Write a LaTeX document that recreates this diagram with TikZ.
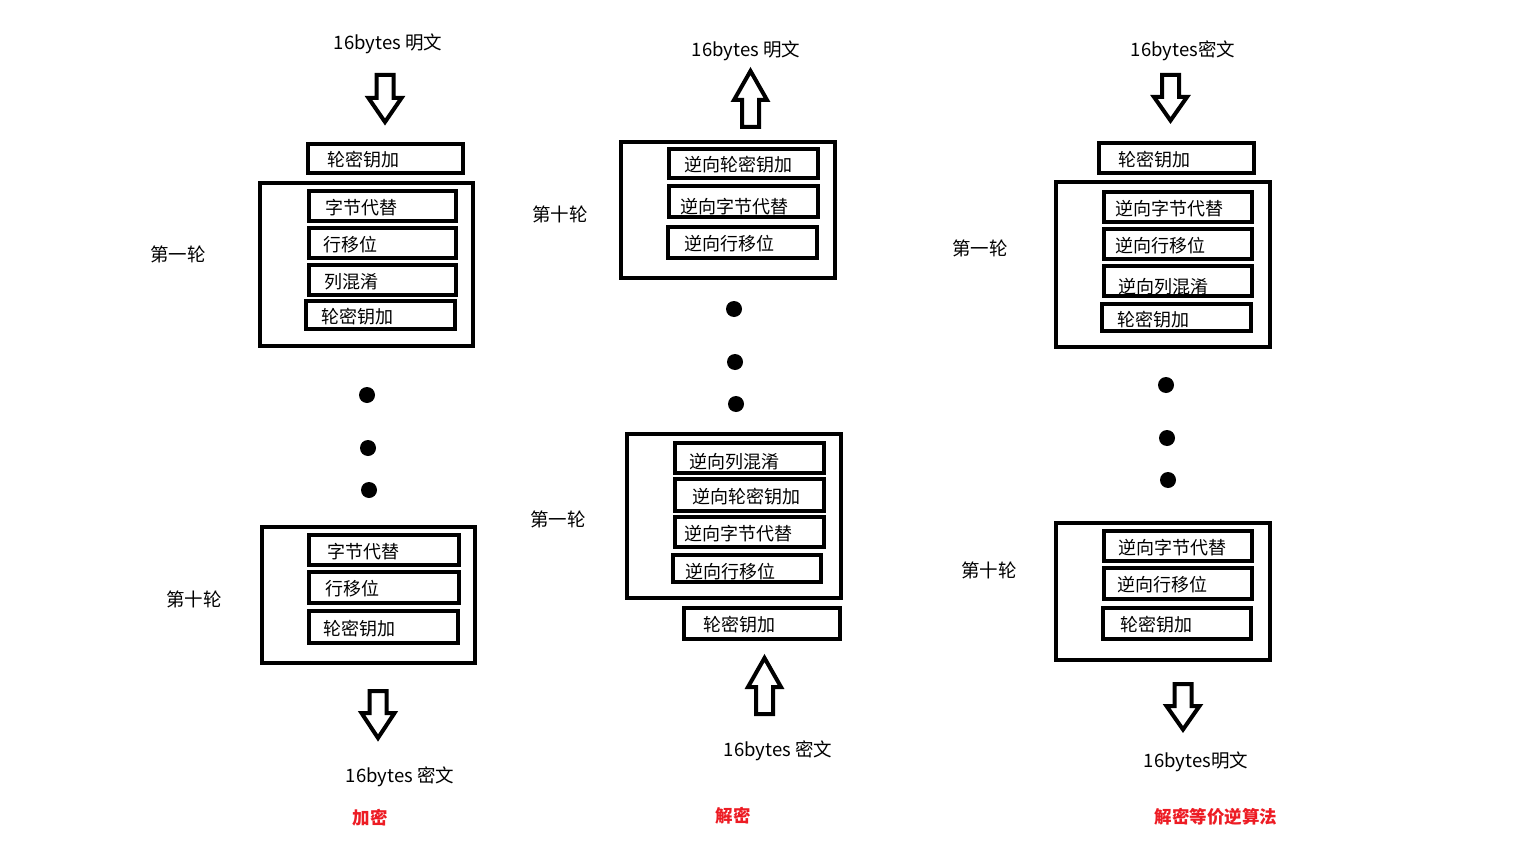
\documentclass[tikz,border=0pt]{standalone}
\usepackage{fontspec}
\setmainfont{Noto Sans CJK SC}
\definecolor{aesred}{RGB}{237,28,36}
\tikzset{
  opbox/.style={draw, line width=4pt, rectangle, inner sep=0pt, outer sep=0pt},
  bigbox/.style={draw, line width=4pt, rectangle, inner sep=0pt, outer sep=0pt},
  optext/.style={font=\fontsize{18}{18}\selectfont, inner sep=0pt, anchor=west},
  lbl/.style={font=\fontsize{18.5}{22}\selectfont, inner sep=0pt, yshift=-2pt},
  redlbl/.style={font=\bfseries\fontsize{17.5}{20}\selectfont, text=aesred, inner sep=0pt, yshift=-1pt},
  bigdot/.style={circle, fill=black, inner sep=0pt, minimum size=16pt},
  arrowline/.style={draw, line width=4pt, line join=miter},
  pics/harrow/.style 2 args={code={
    \draw[arrowline] (-8.5,0) -- (-8.5,#1) -- (-16.5,#1) -- (0,{#1+#2}) -- (16.5,#1) -- (8.5,#1) -- (8.5,0) -- cycle;}}
}
\newcommand\obox[8]{%
  \node[opbox, minimum width={#4-#2-4}, minimum height={#5-#3-4}] (#1) at ({(#2+#4)/2},{(#3+#5)/2}) {};
  \node[optext] (#1t) at (#6,{(#3+#5)/2+#7+1.5}) {#8};
}
\newcommand\bbox[5]{%
  \node[bigbox, minimum width={#4-#2-4}, minimum height={#5-#3-4}] (#1) at ({(#2+#4)/2},{(#3+#5)/2}) {};
}
\begin{document}
\begin{tikzpicture}[x=1pt,y=-1pt]
\useasboundingbox[fill=white] (0,0) rectangle (1536,864);
% ---------- column 1: encryption ----------
\node[lbl] (c1in) at (388,42) {16bytes 明文};
\pic at (385,75) {harrow={23}{24}};
\obox{c1kz}{306}{142}{465}{175}{327}{0}{轮密钥加}
\bbox{c1ra}{258}{181}{475}{348}
\obox{c1sa}{307}{189}{458}{223}{325}{0}{字节代替}
\obox{c1ha}{307}{226}{458}{260}{323}{0}{行移位}
\obox{c1ma}{307}{263}{458}{297}{324}{0}{列混淆}
\obox{c1ka}{304}{299}{457}{331}{321}{0}{轮密钥加}
\node[lbl] (c1la) at (178,252) {第一轮};
\node[bigdot] (c1d1) at (367,395) {};
\node[bigdot] (c1d2) at (368,448) {};
\node[bigdot] (c1d3) at (369,490) {};
\bbox{c1rb}{260}{525}{477}{665}
\obox{c1sb}{307}{533}{461}{567}{327}{0}{字节代替}
\obox{c1hb}{307}{570}{461}{605}{325}{0}{行移位}
\obox{c1kb}{307}{609}{460}{645}{323}{0}{轮密钥加}
\node[lbl] (c1lb) at (194,597) {第十轮};
\pic at (378,691) {harrow={22}{25}};
\node[lbl] (c1out) at (400,775) {16bytes 密文};
\node[redlbl] (c1title) at (370,817) {加密};
% ---------- column 2: decryption ----------
\node[lbl] (c2out) at (746,49) {16bytes 明文};
\pic[rotate=180] at (750.5,127) {harrow={27}{29}};
\bbox{c2rb}{619}{140}{837}{280}
\obox{c2kb}{667}{147}{820}{180}{684}{0}{逆向轮密钥加}
\obox{c2sb}{667}{184}{820}{219}{680}{4}{逆向字节代替}
\obox{c2hb}{666}{225}{819}{260}{684}{0}{逆向行移位}
\node[lbl] (c2lb) at (560,212) {第十轮};
\node[bigdot] (c2d1) at (734,309) {};
\node[bigdot] (c2d2) at (735,362) {};
\node[bigdot] (c2d3) at (736,404) {};
\bbox{c2ra}{625}{432}{843}{600}
\obox{c2ma}{673}{441}{826}{475}{689}{2}{逆向列混淆}
\obox{c2ka}{673}{477}{826}{513}{692}{0}{逆向轮密钥加}
\obox{c2sa}{673}{515}{826}{549}{684}{0}{逆向字节代替}
\obox{c2ha}{671}{553}{823}{584}{685}{2}{逆向行移位}
\node[lbl] (c2la) at (558,517) {第一轮};
\obox{c2kz}{682}{606}{842}{641}{703}{0}{轮密钥加}
\pic[rotate=180] at (764.5,714) {harrow={27}{29}};
\node[lbl] (c2in) at (778,749) {16bytes 密文};
\node[redlbl] (c2title) at (733,815) {解密};
% ---------- column 3: equivalent inverse ----------
\node[lbl] (c3in) at (1183,49) {16bytes密文};
\pic at (1170.5,75) {harrow={22}{23.5}};
\obox{c3kz}{1097}{141}{1256}{175}{1118}{0}{轮密钥加}
\bbox{c3ra}{1054}{180}{1272}{349}
\obox{c3sa}{1102}{190}{1254}{224}{1115}{0}{逆向字节代替}
\obox{c3ha}{1102}{227}{1254}{261}{1115}{0}{逆向行移位}
\obox{c3ma}{1102}{264}{1254}{298}{1118}{4}{逆向列混淆}
\obox{c3ka}{1100}{302}{1253}{333}{1117}{1}{轮密钥加}
\node[lbl] (c3la) at (980,246) {第一轮};
\node[bigdot] (c3d1) at (1166,385) {};
\node[bigdot] (c3d2) at (1167,438) {};
\node[bigdot] (c3d3) at (1168,480) {};
\bbox{c3rb}{1054}{521}{1272}{662}
\obox{c3sb}{1102}{529}{1254}{563}{1118}{0}{逆向字节代替}
\obox{c3hb}{1102}{566}{1254}{601}{1117}{0}{逆向行移位}
\obox{c3kb}{1101}{606}{1253}{641}{1120}{0}{轮密钥加}
\node[lbl] (c3lb) at (989,568) {第十轮};
\pic at (1183,684) {harrow={22}{23.5}};
\node[lbl] (c3out) at (1196,760) {16bytes明文};
\node[redlbl] (c3title) at (1216,816) {解密等价逆算法};
\end{tikzpicture}
\end{document}
